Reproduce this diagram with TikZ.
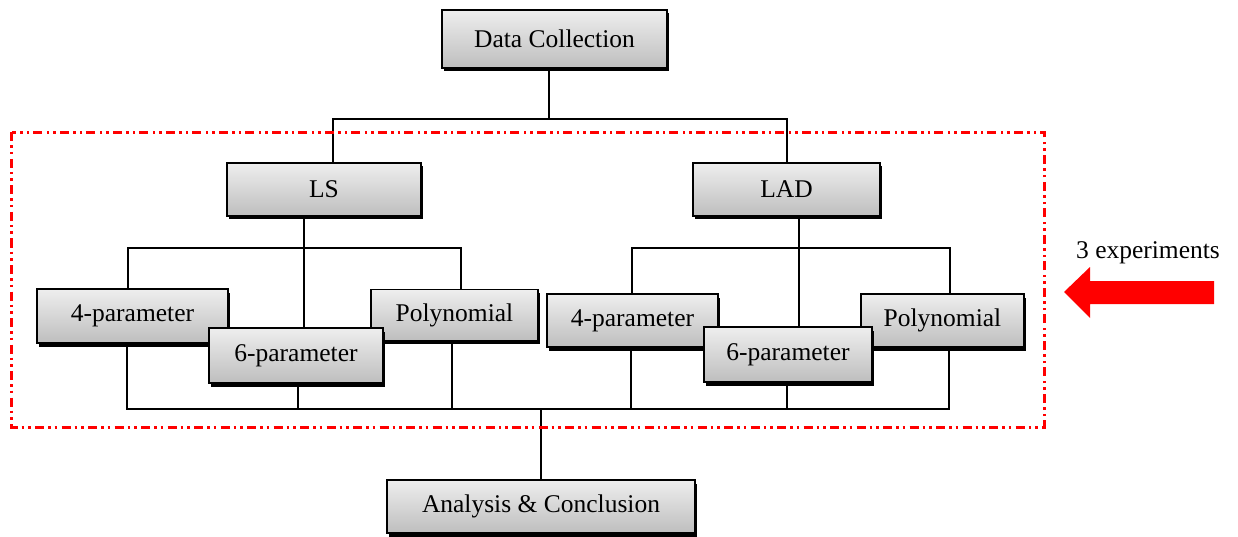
\documentclass[tikz,border=0pt]{standalone}
\usepackage{fontspec}
\setmainfont{Liberation Serif}
\usetikzlibrary{backgrounds}
\definecolor{boxtop}{RGB}{238,238,238}
\definecolor{boxbot}{RGB}{190,190,190}
\begin{document}
\begin{tikzpicture}[x=1pt,y=-1pt,
  box/.style={draw=black, line width=1.6pt, top color=boxtop, bottom color=boxbot,
    inner sep=0pt, font=\fontsize{25.5}{30}\selectfont,
    preaction={fill=black, transform canvas={shift={(1.5pt,-3.5pt)}}}},
  conn/.style={line width=1.6pt},
  frame/.style={red, line width=3pt, dash pattern=on 9pt off 4pt on 2.5pt off 4pt on 2.5pt off 4.5pt},
  lbl/.style={font=\fontsize{25.5}{30}\selectfont, inner sep=0pt}]
\useasboundingbox (0,0) rectangle (1238,537);

\node[box, minimum width=225pt, minimum height=58pt] (dc) at (554.5,39) {Data Collection};
\node[box, minimum width=194pt, minimum height=53pt] (ls) at (324,189.5) {LS};
\node[box, minimum width=187pt, minimum height=53pt] (lad) at (786.5,189.5) {LAD};
\node[box, minimum width=191pt, minimum height=54pt] (l4) at (132.5,316) {4-parameter};
\node[box, minimum width=167pt, minimum height=51pt] (lp) at (454.5,315) {Polynomial};
\node[box, minimum width=174pt, minimum height=55pt] (l6) at (296,355.5) {6-parameter};
\node[box, minimum width=171pt, minimum height=53pt] (r4) at (632.5,320.5) {4-parameter};
\node[box, minimum width=163pt, minimum height=53pt] (rp) at (942.5,320.5) {Polynomial};
\node[box, minimum width=168pt, minimum height=55pt] (r6) at (788,354.5) {6-parameter};
\node[box, minimum width=308pt, minimum height=53pt] (ac) at (541,506.5) {Analysis \& Conclusion};

\coordinate (bar1) at (0,119);
\coordinate (bar2) at (0,248);
\coordinate (bar3) at (0,409);
\path ([xshift=-5.5pt]dc.south) coordinate (dcs)
      ([xshift=9pt]ls.north) coordinate (lsn)
      ([xshift=-20pt]ls.south) coordinate (lss)
      ([xshift=0.5pt]lad.north) coordinate (ladn)
      ([xshift=12.5pt]lad.south) coordinate (lads)
      ([xshift=-4.5pt]l4.north) coordinate (l4n)
      ([xshift=-5.5pt]l4.south) coordinate (l4s)
      ([xshift=8pt]l6.north) coordinate (l6n)
      ([xshift=2pt]l6.south) coordinate (l6s)
      ([xshift=6.5pt]lp.north) coordinate (lpn)
      ([xshift=-2.5pt]lp.south) coordinate (lps)
      ([xshift=-0.5pt]r4.north) coordinate (r4n)
      ([xshift=-1.5pt]r4.south) coordinate (r4s)
      ([xshift=11pt]r6.north) coordinate (r6n)
      ([xshift=-1pt]r6.south) coordinate (r6s)
      ([xshift=7.5pt]rp.north) coordinate (rpn)
      ([xshift=6.5pt]rp.south) coordinate (rps)
      (ac.north) coordinate (acn);

\begin{pgfonlayer}{background}
\draw[conn] (dcs) -- (dcs |- bar1);
\draw[conn] (lsn) -- (lsn |- bar1) -- (ladn |- bar1) -- (ladn);
\draw[conn] (lss) -- (lss |- bar2);
\draw[conn] (l4n) -- (l4n |- bar2) -- (lpn |- bar2) -- (lpn);
\draw[conn] (l6n) -- (l6n |- bar2);
\draw[conn] (lads) -- (lads |- bar2);
\draw[conn] (r4n) -- (r4n |- bar2) -- (rpn |- bar2) -- (rpn);
\draw[conn] (r6n) -- (r6n |- bar2);
\draw[conn] (l4s) -- (l4s |- bar3) -- (rps |- bar3) -- (rps);
\draw[conn] (l6s) -- (l6s |- bar3);
\draw[conn] (lps) -- (lps |- bar3);
\draw[conn] (r4s) -- (r4s |- bar3);
\draw[conn] (r6s) -- (r6s |- bar3);
\draw[conn] (acn |- bar3) -- (acn);
\end{pgfonlayer}

\draw[frame] (11.5,132.5) rectangle (1044,427);

\fill[red] (1064,292) -- (1090,267) -- (1090,281) -- (1214,281) -- (1214,304)
  -- (1090,304) -- (1090,318) -- cycle;
\node[lbl] (exp) at (1148,253) {3 experiments};
\end{tikzpicture}
\end{document}
